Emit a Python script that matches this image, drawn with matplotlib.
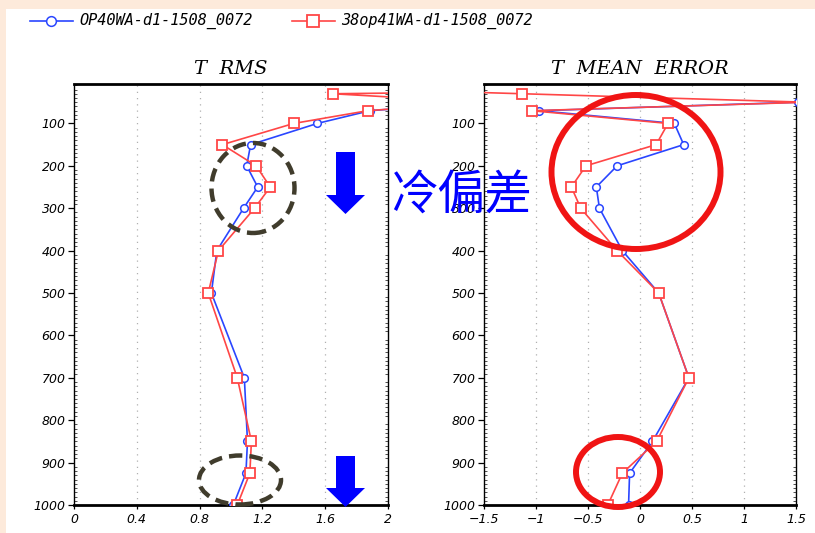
import numpy as np
import matplotlib
matplotlib.use("Agg")
import matplotlib.pyplot as plt
from matplotlib.patches import Ellipse, Polygon, Rectangle
from matplotlib.lines import Line2D

# pressure levels (hPa)
levels = [20, 30, 50, 70, 100, 150, 200, 250, 300, 400, 500, 700, 850, 925, 1000]

# T RMS
rms_op40 = [np.nan, np.nan, 2.6, 1.885, 1.55, 1.125, 1.10, 1.17, 1.08, 0.91,
            0.875, 1.085, 1.105, 1.095, 1.015]
rms_38op41 = [4.0, 1.65, 2.6, 1.87, 1.40, 0.945, 1.16, 1.25, 1.15, 0.92,
              0.855, 1.04, 1.13, 1.12, 1.04]

# T mean error
me_op40 = [np.nan, np.nan, 1.52, -0.97, 0.33, 0.42, -0.22, -0.42, -0.39, -0.17,
           0.18, 0.47, 0.12, -0.10, -0.11]
me_38op41 = [-2.5, -1.13, 1.6, -1.04, 0.27, 0.155, -0.52, -0.66, -0.57, -0.22,
             0.18, 0.47, 0.16, -0.17, -0.31]

labels = ["OP40WA-d1-1508_0072", "38op41WA-d1-1508_0072"]
titles = ["T  RMS", "T  MEAN  ERROR"]
y_ticks = [100, 200, 300, 400, 500, 600, 700, 800, 900, 1000]
rms_ticks = [0, 0.4, 0.8, 1.2, 1.6, 2]
rms_ticklabels = ["0", "0.4", "0.8", "1.2", "1.6", "2"]
me_ticks = [-1.5, -1, -0.5, 0, 0.5, 1, 1.5]
me_ticklabels = ["\u22121.5", "\u22121", "\u22120.5", "0", "0.5", "1", "1.5"]

BLUE = "#2a46ff"
RED = "#ff4646"
W, H = 815, 533


def fx(px):
    return px / W


def fy(py):
    return 1 - py / H


fig = plt.figure(figsize=(W / 100, H / 100), dpi=100)
fig.patch.set_facecolor("white")

# peach slide border
fig.add_artist(Rectangle((0, fy(9)), 1, 9 / H, transform=fig.transFigure,
                         facecolor="#fdeadb", edgecolor="none", zorder=-5))
fig.add_artist(Rectangle((0, 0), 6 / W, 1, transform=fig.transFigure,
                         facecolor="#fdeadb", edgecolor="none", zorder=-5))

ax1 = fig.add_axes([fx(74), fy(505), (388 - 74) / W, (505 - 84) / H])
ax2 = fig.add_axes([fx(484), fy(505), (796 - 484) / W, (505 - 84) / H])


def style_axis(ax, title, xlim, xticks, xticklabels):
    ax.set_ylim(1000, 7)
    ax.set_xlim(*xlim)
    ax.set_yticks(y_ticks)
    ax.set_yticklabels([str(v) for v in y_ticks], fontsize=9, style="italic")
    ax.set_yticks(np.arange(10, 1000, 10), minor=True)
    ax.set_xticks(xticks)
    ax.set_xticklabels(xticklabels, fontsize=9, style="italic")
    ax.tick_params(axis="y", which="major", direction="out", length=4, width=0.9, pad=2)
    ax.tick_params(axis="y", which="minor", direction="in", length=2, width=0.6,
                   left=True, right=True, color="#333333")
    ax.tick_params(axis="x", which="major", direction="out", length=3, width=0.9, pad=3)
    for v in xticks[1:-1]:
        ax.axvline(v, color="#b0b0b0", lw=0.9, ls=(0, (1, 4)), zorder=0)
    ax.spines["top"].set_linewidth(2)
    ax.spines["bottom"].set_linewidth(2)
    ax.spines["left"].set_linewidth(1)
    ax.spines["right"].set_linewidth(1)
    ax.set_title(title, fontsize=14, family="DejaVu Serif", style="italic", pad=7)


for ax, a, b in [(ax1, rms_op40, rms_38op41), (ax2, me_op40, me_38op41)]:
    ax.plot(a, levels, color=BLUE, lw=1.2, marker="o", ms=5.5, mfc="white",
            mec=BLUE, mew=1.1, zorder=3)
    ax.plot(b, levels, color=RED, lw=1.2, marker="s", ms=6.5, mfc="white",
            mec=RED, mew=1.3, zorder=4)

style_axis(ax1, titles[0], (0, 2), rms_ticks, rms_ticklabels)
style_axis(ax2, titles[1], (-1.5, 1.5), me_ticks, me_ticklabels)

# legend across the top
fig.add_artist(Line2D([fx(30), fx(73)], [fy(21), fy(21)], transform=fig.transFigure,
                      color=BLUE, lw=1.2))
fig.add_artist(Line2D([fx(51)], [fy(21)], transform=fig.transFigure, marker="o",
                      ms=7, mfc="white", mec=BLUE, mew=1.1, ls="none"))
fig.text(fx(79), fy(21), labels[0], fontsize=11, family="DejaVu Sans Mono",
         style="italic", va="center", ha="left")
fig.add_artist(Line2D([fx(292), fx(335)], [fy(21), fy(21)], transform=fig.transFigure,
                      color=RED, lw=1.2))
fig.add_artist(Line2D([fx(313)], [fy(21)], transform=fig.transFigure, marker="s",
                      ms=8, mfc="white", mec=RED, mew=1.3, ls="none"))
fig.text(fx(341), fy(21), labels[1], fontsize=11, family="DejaVu Sans Mono",
         style="italic", va="center", ha="left")

# dashed circles on RMS panel
for cx, cy, w, h in [(253, 188, 83, 90), (240, 480, 82, 49)]:
    fig.add_artist(Ellipse((fx(cx), fy(cy)), w / W, h / H, transform=fig.transFigure,
                           fill=False, edgecolor="#403c2c", lw=3.2,
                           ls=(0, (3, 1.6)), zorder=6))

# blue down arrows
for top, base, tip in [(152, 195, 214), (456, 488, 507)]:
    pts = [(336, top), (355, top), (355, base), (365, base), (345.5, tip),
           (326, base), (336, base)]
    fig.add_artist(Polygon([(fx(x), fy(y)) for x, y in pts], closed=True,
                           transform=fig.transFigure, facecolor="#0000ff",
                           edgecolor="none", zorder=6))

# red circles on mean error panel
for cx, cy, w, h in [(636, 172, 169, 154), (618, 472, 84, 70)]:
    fig.add_artist(Ellipse((fx(cx), fy(cy)), w / W, h / H, transform=fig.transFigure,
                           fill=False, edgecolor="#f01414", lw=4.3, zorder=6))

# annotation sits over the right panel's tick labels, as in the original slide
fig.text(fx(461), fy(195), "冷偏差", fontsize=34, color="#0000ff",
         family=["Noto Sans CJK TC", "DejaVu Sans"], ha="center", va="center",
         zorder=7)

fig.savefig("out.png", dpi=100)
